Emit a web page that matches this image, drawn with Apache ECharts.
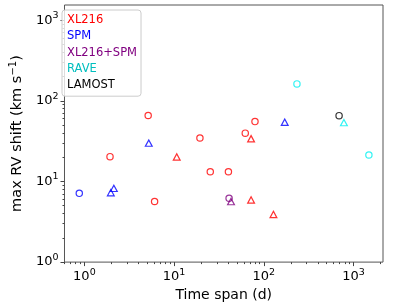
<!DOCTYPE html>
<html>
<head>
<meta charset="utf-8">
<script src="https://cdn.jsdelivr.net/npm/echarts@6/dist/echarts.min.js"></script>
<style>html,body{margin:0;padding:0;background:#fff}#c{width:399px;height:307px}</style>
</head>
<body>
<div id="c"></div>
<script>
// ---- data (time span in days, max RV shift in km/s) ----
const xl216CircleSpan  = [1.93, 5.14, 6.06, 19.4, 25.3, 40.3, 62.1, 79.7];
const xl216CircleShift = [20.3, 65.8, 5.63, 34.5, 13.2, 13.2, 39.7, 55.2];
const xl216TriSpan  = [10.7, 72.1, 72.1, 128];
const xl216TriShift = [20.1, 33.8, 5.89, 3.89];
const spmCircleSpan  = [0.877];
const spmCircleShift = [7.12];
const spmTriSpan  = [5.22, 1.97, 2.13, 171];
const spmTriShift = [29.9, 7.26, 8.2, 54.2];
const bothCircleSpan  = [41.0];
const bothCircleShift = [6.18];
const bothTriSpan  = [43.1];
const bothTriShift = [5.63];
const raveCircleSpan  = [234, 1483];
const raveCircleShift = [162, 21.3];
const raveTriSpan  = [781];
const raveTriShift = [53.6];
const lamostCircleSpan  = [690];
const lamostCircleShift = [65.4];

const legendNames = ['XL216', 'SPM', 'XL216+SPM', 'RAVE', 'LAMOST'];
const xMajorTicks = [1, 10, 100, 1000];
const yMajorTicks = [1, 10, 100, 1000];
const xMinorTicks = [0.6, 0.7, 0.8, 0.9, 2, 3, 4, 5, 6, 7, 8, 9, 20, 30, 40, 50, 60, 70, 80, 90, 200, 300, 400, 500, 600, 700, 800, 900, 2000];
const yMinorTicks = [2, 3, 4, 5, 6, 7, 8, 9, 20, 30, 40, 50, 60, 70, 80, 90, 200, 300, 400, 500, 600, 700, 800, 900];

const markerColors = {'XL216': '#ff0000', 'SPM': '#0000ff', 'XL216+SPM': '#800080', 'RAVE': '#00f0f0', 'LAMOST': '#000000'};
const textColors   = {'XL216': '#ff0000', 'SPM': '#0000ff', 'XL216+SPM': '#800080', 'RAVE': '#00bfbf', 'LAMOST': '#000000'};

const zip = (a, b) => a.map((v, i) => [v, b[i]]);
const FONT = 'DejaVu Sans';

function mk(name, symbol, xs, ys) {
  return {
    type: 'scatter', name: name, symbol: symbol,
    symbolSize: symbol === 'circle' ? 6.3 : [6.8, 6.3],
    xAxisIndex: 0, yAxisIndex: 0,
    data: zip(xs, ys),
    itemStyle: {color: 'none', borderColor: markerColors[name], borderWidth: 1.2},
    emphasis: {disabled: true}
  };
}

function powLabel(v) {
  const e = Math.round(Math.log10(v));
  return '{b|10}{s|' + e + '}';
}
const richLab = {
  b: {fontSize: 13, fontFamily: FONT, color: '#000'},
  s: {fontSize: 9.5, fontFamily: FONT, color: '#000', padding: [0, 0, 9, 0]}
};

const xMin = 0.6, xMax = 2130, yMin = 1, yMax = 1540;

const option = {
  animation: false,
  grid: {left: 55, right: 16, top: 5, bottom: 44, show: true, borderColor: '#555', borderWidth: 1, backgroundColor: 'transparent'},
  legend: {
    left: 62, top: 10, orient: 'vertical',
    icon: 'none', itemWidth: 0, itemHeight: 0, itemGap: 2.3,
    padding: [3, 4, 4, 0],
    backgroundColor: 'rgba(255,255,255,0.8)', borderColor: '#cccccc', borderWidth: 1, borderRadius: 3,
    selectedMode: false,
    data: legendNames.map(n => ({name: n, icon: 'none', textStyle: {color: textColors[n], fontSize: 11.5, fontFamily: FONT, lineHeight: 14}}))
  },
  xAxis: [
    {
      type: 'log', logBase: 10, min: xMin, max: xMax, position: 'bottom',
      name: 'Time span (d)', nameLocation: 'middle', nameGap: 21,
      nameTextStyle: {fontSize: 14, fontFamily: FONT, color: '#000'},
      axisLine: {show: false},
      axisTick: {show: true, length: 4, customValues: xMajorTicks, lineStyle: {color: '#444', width: 1}},
      axisLabel: {customValues: xMajorTicks, formatter: powLabel, rich: richLab, margin: 5},
      splitLine: {show: false}, minorTick: {show: false}
    },
    {
      type: 'log', logBase: 10, min: xMin, max: xMax, position: 'bottom',
      axisLine: {show: false},
      axisTick: {show: true, length: 2, customValues: xMinorTicks, lineStyle: {color: '#444', width: 1}},
      axisLabel: {show: false}, splitLine: {show: false}
    }
  ],
  yAxis: [
    {
      type: 'log', logBase: 10, min: yMin, max: yMax, position: 'left',
      name: '{a|max RV shift (km s}{s|−1}{a|)}', nameLocation: 'middle', nameGap: 34,
      nameTextStyle: {rich: {
        a: {fontSize: 14.5, fontFamily: FONT, color: '#000'},
        s: {fontSize: 10, fontFamily: FONT, color: '#000', padding: [0, 0, 9, 0]}
      }},
      axisLine: {show: false},
      axisTick: {show: true, length: 4, customValues: yMajorTicks, lineStyle: {color: '#444', width: 1}},
      axisLabel: {customValues: yMajorTicks, formatter: powLabel, rich: richLab, margin: 6},
      splitLine: {show: false}, minorTick: {show: false}
    },
    {
      type: 'log', logBase: 10, min: yMin, max: yMax, position: 'left',
      axisLine: {show: false},
      axisTick: {show: true, length: 2, customValues: yMinorTicks, lineStyle: {color: '#444', width: 1}},
      axisLabel: {show: false}, splitLine: {show: false}
    }
  ],
  series: [
    mk('XL216', 'circle', xl216CircleSpan, xl216CircleShift),
    mk('XL216', 'triangle', xl216TriSpan, xl216TriShift),
    mk('SPM', 'circle', spmCircleSpan, spmCircleShift),
    mk('SPM', 'triangle', spmTriSpan, spmTriShift),
    mk('XL216+SPM', 'circle', bothCircleSpan, bothCircleShift),
    mk('XL216+SPM', 'triangle', bothTriSpan, bothTriShift),
    mk('RAVE', 'circle', raveCircleSpan, raveCircleShift),
    mk('RAVE', 'triangle', raveTriSpan, raveTriShift),
    mk('LAMOST', 'circle', lamostCircleSpan, lamostCircleShift)
  ]
};

const chart = echarts.init(document.getElementById('c'), null, {renderer: 'canvas'});
chart.setOption(option);
</script>
</body>
</html>
